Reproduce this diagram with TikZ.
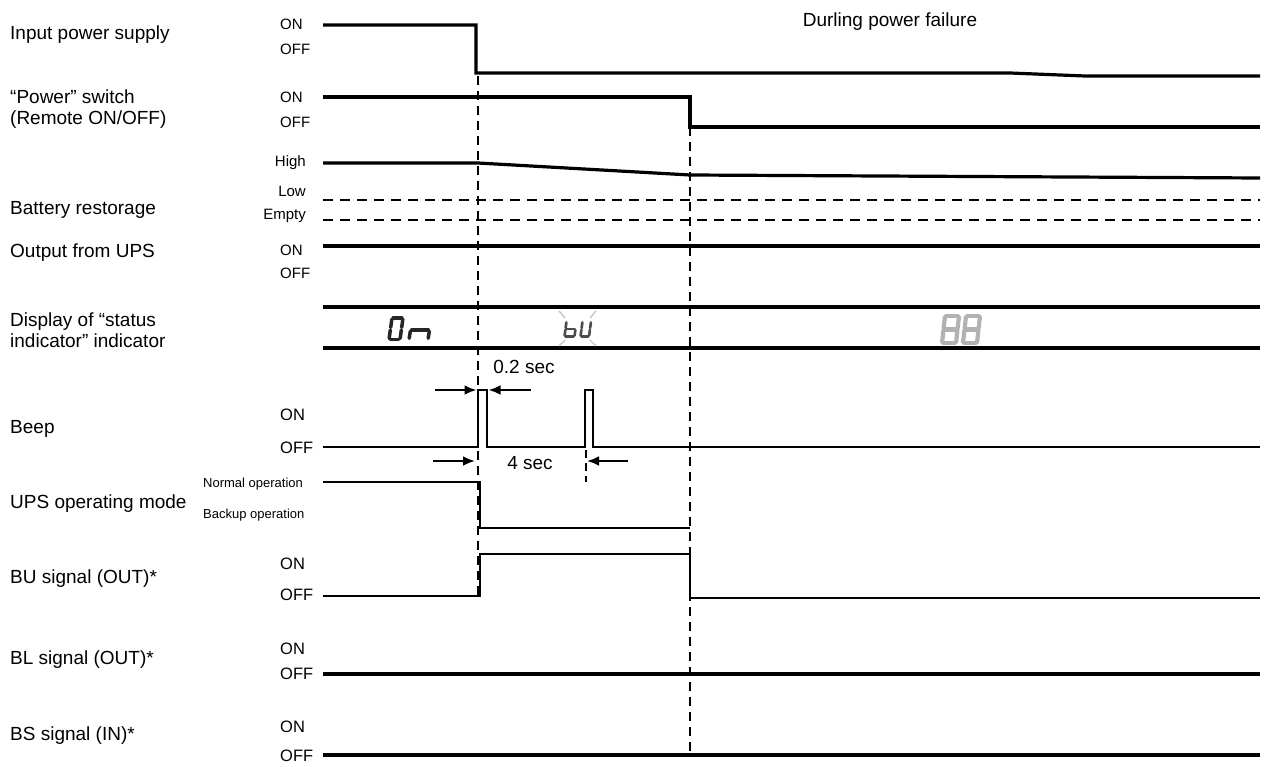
\documentclass[tikz,border=0pt]{standalone}
\usepackage{fontspec}
\setmainfont{Liberation Sans}
\usetikzlibrary{arrows.meta}
\newcommand\lcddigit[6]{%
  \coordinate (BL) at (#1,#2);
  \coordinate (BR) at (#1+#3,#2);
  \coordinate (ML) at (#1+#5/2,#2-#4/2);
  \coordinate (MR) at (#1+#3+#5/2,#2-#4/2);
  \coordinate (TL) at (#1+#5,#2-#4);
  \coordinate (TR) at (#1+#3+#5,#2-#4);
  \foreach \p/\q in {#6} {\draw[seg] (\p) -- (\q);}
}
\begin{document}
\begin{tikzpicture}[x=1pt,y=-1pt,
  lbl/.style={anchor=base west,inner sep=0pt,font=\fontsize{19}{22}\selectfont},
  lvs/.style={anchor=base west,inner sep=0pt,font=\fontsize{15}{18}\selectfont},
  lvr/.style={anchor=base east,inner sep=0pt,font=\fontsize{15}{18}\selectfont},
  lvb/.style={anchor=base west,inner sep=0pt,font=\fontsize{16.5}{19}\selectfont},
  lvm/.style={anchor=base west,inner sep=0pt,font=\fontsize{13}{15}\selectfont},
  sig/.style={line width=3.2pt,line join=miter},
  sigthin/.style={line width=2.6pt,line join=miter},
  guide/.style={line width=2.7pt,dash pattern=on 9pt off 6pt},
  hguide/.style={line width=2.7pt,dash pattern=on 10pt off 7pt},
  dimarrow/.style={line width=2.5pt,-{Latex[length=12pt,width=10pt]}},
  seg/.style={line width=3.5pt,black!85,line cap=round,shorten <=1.2pt,shorten >=1.2pt},
]
\useasboundingbox (0,0) rectangle (1268,767);

% ---- left labels ----
\node[lbl] (l1) at (10,39.7) {Input power supply};
\node[lbl] (l2a) at (10,103.7) {“Power” switch};
\node[lbl] (l2b) at (10,124.7) {(Remote ON/OFF)};
\node[lbl] (l3) at (10,214.7) {Battery restorage};
\node[lbl] (l4) at (10,257.7) {Output from UPS};
\node[lbl] (l5a) at (10,326.7) {Display of “status};
\node[lbl] (l5b) at (10,347.7) {indicator” indicator};
\node[lbl] (l6) at (10,433.7) {Beep};
\node[lbl] (l7) at (10,508.7) {UPS operating mode};
\node[lbl] (l8) at (10,583.7) {BU signal (OUT)*};
\node[lbl] (l9) at (10,664.7) {BL signal (OUT)*};
\node[lbl] (l10) at (10,740.7) {BS signal (IN)*};
\node[lbl,anchor=base] (title) at (890,26.7) {Durling power failure};

% ---- level labels ----
\node[lvs] (on1) at (280,30) {ON};
\node[lvs] (off1) at (280,55) {OFF};
\node[lvs] (on2) at (280,103) {ON};
\node[lvs] (off2) at (280,128) {OFF};
\node[lvr] (hi3) at (306,167) {High};
\node[lvr] (lo3) at (306,197) {Low};
\node[lvr] (em3) at (306,220) {Empty};
\node[lvs] (on4) at (280,255) {ON};
\node[lvs] (off4) at (280,278) {OFF};
\node[lvb] (on6) at (280,420) {ON};
\node[lvb] (off6) at (280,453) {OFF};
\node[lvm] (no7) at (203,487.7) {Normal operation};
\node[lvm] (bo7) at (203,518.7) {Backup operation};
\node[lvb] (on8) at (280,569) {ON};
\node[lvb] (off8) at (280,600) {OFF};
\node[lvb] (on9) at (280,654) {ON};
\node[lvb] (off9) at (280,679) {OFF};
\node[lvb] (on10) at (280,732) {ON};
\node[lvb] (off10) at (280,761) {OFF};

% ---- vertical guides ----
\draw[guide] (478,76) -- (478,596);
\draw[guide] (690,127) -- (690,755);
\draw[line width=2.3pt,dash pattern=on 8pt off 5pt] (586,450) -- (586,482);

% ---- horizontal dashed battery levels ----
\draw[hguide] (323,200) -- (1260,200);
\draw[hguide] (323,220) -- (1260,220);

% ---- signals ----
\draw[sig] (323,25) -- (476,25) -- (476,73) -- (1010,73) -- (1085,76) -- (1260,76);
\draw[sig] (323,97) -- (690,97) -- (690,127) -- (1260,127);
\draw[sig] (323,163) -- (478,163) -- (690,175) -- (1260,178);
\draw[sig] (323,246) -- (1260,246);
\draw[sig] (323,307) -- (1260,307);
\draw[sig] (323,348) -- (1260,348);
\draw[sigthin] (323,447) -- (478,447) -- (478,390) -- (487,390) -- (487,447)
  -- (585,447) -- (585,390) -- (593,390) -- (593,447) -- (1260,447);
\draw[sigthin] (323,482) -- (480,482) -- (480,528) -- (690,528);
\draw[sigthin] (323,596) -- (480,596) -- (480,554) -- (690,554) -- (690,598) -- (1260,598);
\draw[sig] (323,674) -- (1260,674);
\draw[sig] (323,755) -- (1260,755);

% ---- timing arrows ----
\coordinate (a1s) at (435,390); \coordinate (a1e) at (476.5,390);
\coordinate (a2s) at (531,390); \coordinate (a2e) at (488.5,390);
\coordinate (a3s) at (433,461); \coordinate (a3e) at (475,461);
\coordinate (a4s) at (628,461); \coordinate (a4e) at (587,461);
\draw[dimarrow] (a1s) -- (a1e);
\draw[dimarrow] (a2s) -- (a2e);
\draw[dimarrow] (a3s) -- (a3e);
\draw[dimarrow] (a4s) -- (a4e);
\node[lbl,anchor=base] (t02) at (524,373.7) {0.2 sec};
\node[lbl,anchor=base] (t4) at (530,469.7) {4 sec};

% ---- display icons ----
% "On"
\lcddigit{389}{339.5}{11}{21.5}{3}{TL/TR,TR/MR,MR/BR,BR/BL,BL/ML,ML/TL}
\lcddigit{409}{339.5}{19}{19}{3}{ML/MR,MR/BR,ML/BL}
% "bU" (blinking)
\begin{scope}[seg/.style={line width=2.6pt,black!70,line cap=round,shorten <=0.9pt,shorten >=0.9pt}]
\lcddigit{564.5}{336.5}{10}{15}{2}{TL/ML,ML/BL,BL/BR,BR/MR,ML/MR}
\lcddigit{580.5}{336.5}{8.5}{15}{2}{TL/ML,ML/BL,BL/BR,BR/MR,MR/TR}
\end{scope}
\begin{scope}[line width=1.4pt,black!22]
\draw (559,311) -- (565,318);
\draw (596,311) -- (590,318);
\draw (559,346) -- (565,340);
\draw (596,346) -- (590,340);
\end{scope}
% "88" (off)
\begin{scope}[seg/.style={line width=4.2pt,black!30,line cap=round,shorten <=1.2pt,shorten >=1.2pt}]
\lcddigit{942}{343}{14}{27}{3}{TL/TR,TR/MR,MR/BR,BR/BL,BL/ML,ML/TL,ML/MR}
\lcddigit{963}{343}{14}{27}{3}{TL/TR,TR/MR,MR/BR,BR/BL,BL/ML,ML/TL,ML/MR}
\end{scope}
\end{tikzpicture}
\end{document}
